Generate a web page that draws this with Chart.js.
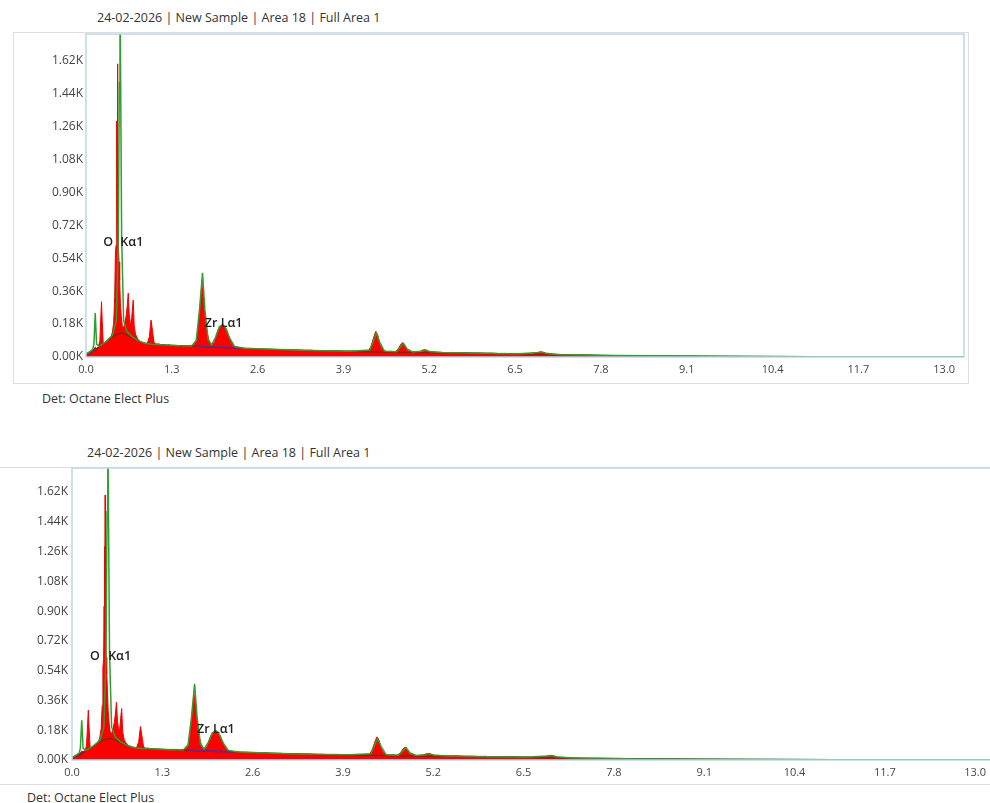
<!DOCTYPE html>
<html>
<head>
<meta charset="utf-8">
<script src="https://cdn.jsdelivr.net/npm/chart.js@4.4.1/dist/chart.umd.min.js"></script>
<style>
  html, body { margin: 0; padding: 0; background: #fff; width: 990px; height: 803px; overflow: hidden; position: relative; font-family: 'Open Sans', sans-serif; }
  .frame { position: absolute; border: 1px solid #dedede; box-sizing: border-box; }
  .title, .det { position: absolute; font-size: 12.5px; color: #333; white-space: nowrap; line-height: 14px; }
  canvas { position: absolute; }
</style>
</head>
<body>

<div class="title" style="left:97px; top:11px;">24-02-2026 | New Sample | Area 18 | Full Area 1</div>
<div class="frame" style="left:13px; top:32px; width:956px; height:352px;"></div>
<canvas id="spec1" width="955" height="351" style="left:13px; top:32px;"></canvas>
<div class="det" style="left:42px; top:392px;">Det: Octane Elect Plus</div>

<div class="title" style="left:87px; top:446px;">24-02-2026 | New Sample | Area 18 | Full Area 1</div>
<div class="frame" style="left:-1px; top:467px; width:1010px; height:318px;"></div>
<canvas id="spec2" width="1000" height="317" style="left:0px; top:467px;"></canvas>
<div class="det" style="left:27px; top:791px;">Det: Octane Elect Plus</div>

<script>
// axis ticks
const xTicks = [0, 1.3, 2.6, 3.9, 5.2, 6.5, 7.8, 9.1, 10.4, 11.7, 13.0];
const yTicks = [0, 180, 360, 540, 720, 900, 1080, 1260, 1440, 1620];
const xMax = 13.3;
const yMax = 1765;

// measured spectrum (red fill), keV / counts
const spectrumKeV = [
  0.00, 0.03, 0.06, 0.09, 0.12, 0.14, 0.16, 0.19, 0.21, 0.225, 0.235, 0.245, 0.26, 0.28, 0.31, 0.34, 0.36, 0.38,
  0.40, 0.42, 0.435, 0.445, 0.455, 0.462, 0.468, 0.472, 0.477, 0.483, 0.49, 0.50, 0.51, 0.52, 0.535, 0.55, 0.57,
  0.59, 0.61, 0.625, 0.64, 0.655, 0.67, 0.685, 0.70, 0.715, 0.73, 0.75, 0.77, 0.79, 0.81, 0.84, 0.87, 0.90, 0.93,
  0.96, 0.985, 1.005, 1.03, 1.06, 1.10, 1.14, 1.18, 1.22, 1.26, 1.30, 1.34, 1.38, 1.42, 1.46, 1.50, 1.54, 1.58,
  1.61, 1.64, 1.67, 1.70, 1.73, 1.755, 1.775, 1.80, 1.83, 1.86, 1.89, 1.92, 1.95, 1.98, 2.01, 2.04, 2.07, 2.10,
  2.13, 2.16, 2.19, 2.22, 2.26, 2.30, 2.35, 2.40, 2.45, 2.50, 2.55, 2.60, 2.70, 2.80, 2.90, 3.00, 3.10, 3.20,
  3.30, 3.40, 3.50, 3.60, 3.70, 3.80, 3.90, 4.00, 4.10, 4.20, 4.28, 4.32, 4.36, 4.39, 4.42, 4.45, 4.49, 4.55,
  4.62, 4.68, 4.73, 4.77, 4.80, 4.83, 4.87, 4.93, 5.00, 5.06, 5.10, 5.14, 5.18, 5.24, 5.35, 5.45, 5.55, 5.65,
  5.75, 5.85, 5.95, 6.05, 6.15, 6.25, 6.35, 6.45, 6.55, 6.65, 6.75, 6.82, 6.88, 6.94, 7.00, 7.10, 7.25, 7.40,
  7.60, 7.80, 8.00, 8.30, 8.60, 9.00, 9.50, 10.00, 11.00, 12.00, 13.30
];
const spectrumCounts = [
  15, 22, 28, 35, 42, 55, 48, 58, 90, 220, 302, 200, 80, 72, 85, 92, 104, 112,
  135, 190, 330, 560, 610, 930, 1290, 700, 1602, 980, 620, 520, 420, 300, 220, 170, 160,
  185, 230, 280, 349, 230, 190, 175, 250, 311, 170, 125, 108, 96, 88, 80, 74, 71, 76,
  110, 202, 150, 80, 70, 72, 65, 68, 62, 66, 60, 63, 58, 61, 57, 62, 58, 64,
  60, 70, 85, 150, 280, 398, 340, 230, 140, 95, 72, 66, 85, 125, 155, 168, 178, 165,
  150, 118, 88, 66, 54, 50, 44, 47, 42, 45, 41, 44, 40, 42, 38, 40, 36, 38,
  35, 37, 34, 35, 32, 34, 31, 33, 30, 32, 35, 60, 110, 140, 120, 70, 40, 30,
  31, 28, 45, 70, 78, 60, 35, 28, 27, 30, 38, 40, 33, 26, 25, 24, 25, 22,
  23, 21, 22, 20, 21, 19, 20, 18, 17, 14, 15, 22, 28, 25, 15, 12, 11, 9,
  10, 8, 7, 6, 5, 4, 3, 2, 2, 1, 1
];

// fitted spectrum (green line)
const fitKeV = [
  0.00, 0.06, 0.10, 0.12, 0.14, 0.16, 0.20, 0.30, 0.40, 0.46, 0.49, 0.505, 0.515, 0.525, 0.54, 0.57, 0.62,
  0.70, 0.80, 0.90, 1.00, 1.20, 1.40, 1.60, 1.67, 1.72, 1.765, 1.80, 1.85, 1.90, 1.96, 2.02, 2.07, 2.12, 2.18,
  2.25, 2.40, 2.80, 3.20, 3.60, 4.00, 4.30, 4.36, 4.40, 4.45, 4.52, 4.70, 4.76, 4.81, 4.86, 4.95, 5.08, 5.14,
  5.20, 5.40, 6.00, 6.50, 6.85, 6.90, 6.96, 7.20, 8.00, 9.00, 10.00, 11.00, 13.30
];
const fitCounts = [
  15, 30, 40, 70, 240, 70, 58, 82, 118, 200, 650, 1500, 2000, 1500, 650, 200, 140,
  110, 88, 74, 70, 66, 62, 60, 90, 260, 460, 260, 95, 66, 105, 165, 178, 155, 100,
  58, 48, 42, 37, 34, 31, 38, 95, 130, 80, 32, 29, 55, 74, 45, 27, 32, 38,
  30, 24, 20, 17, 24, 27, 20, 12, 8, 5, 3, 2, 1
];

// continuum background (dark line)
const bkgKeV = [
  0.00, 0.10, 0.20, 0.30, 0.40, 0.48, 0.55, 0.62, 0.70, 0.78, 0.86, 0.95, 1.10, 1.30, 1.60, 2.00, 2.40, 2.80,
  3.20, 3.60, 4.00, 4.50, 5.00, 5.50, 6.00, 6.50, 7.00, 7.50, 8.00, 9.00, 10.00, 11.00, 13.30
];
const bkgCounts = [
  12, 28, 55, 82, 110, 126, 131, 120, 104, 90, 78, 72, 68, 64, 59, 53, 47, 42,
  37, 33, 30, 27, 24, 22, 19, 17, 13, 10, 8, 5, 3, 2, 1
];

// peak background segments (purple line)
const roiKeV = [0.02, 0.06, 0.10, 0.14, 0.15, 1.66, 1.80, 2.00, 2.20, 2.32];
const roiCounts = [18, 28, 38, 44, null, 60, 58, 53, 49, 47];

// peak labels
const peakLabelText = ['O', 'Kα1', 'Zr Lα1'];
const peakLabelKeV = [0.26, 0.52, 1.80];
const peakLabelCounts = [625, 625, 182];

const toPoints = (xs, ys) => xs.map((x, i) => ({ x: x, y: ys[i] }));

const plotBorder = {
  id: 'plotBorder',
  afterDatasetsDraw(chart) {
    const a = chart.chartArea;
    const ctx = chart.ctx;
    ctx.save();
    ctx.strokeStyle = '#bcd6e8';
    ctx.lineWidth = 1.5;
    ctx.strokeRect(a.left, a.top, a.right - a.left, a.bottom - a.top);
    ctx.restore();
  }
};

const peakLabels = {
  id: 'peakLabels',
  afterDatasetsDraw(chart) {
    const ctx = chart.ctx;
    const xs = chart.scales.x;
    const ys = chart.scales.y;
    ctx.save();
    ctx.font = '600 12.5px "Open Sans"';
    ctx.fillStyle = '#222';
    ctx.textAlign = 'left';
    ctx.textBaseline = 'middle';
    for (let i = 0; i < peakLabelText.length; i++) {
      ctx.fillText(peakLabelText[i], xs.getPixelForValue(peakLabelKeV[i]), ys.getPixelForValue(peakLabelCounts[i]));
    }
    ctx.restore();
  }
};

const makeChart = (id, layout) => {
  const ctx = document.getElementById(id);
  return new Chart(ctx, {
    type: 'line',
    data: {
      datasets: [
        {
          label: 'Fit',
          data: toPoints(fitKeV, fitCounts),
          borderColor: '#2e9e2e',
          borderWidth: 1.5,
          pointRadius: 0,
          fill: false,
          order: 1
        },
        {
          label: 'ROI',
          data: toPoints(roiKeV, roiCounts),
          borderColor: '#5a2d91',
          borderWidth: 1.5,
          pointRadius: 0,
          fill: false,
          order: 2
        },
        {
          label: 'Background',
          data: toPoints(bkgKeV, bkgCounts),
          borderColor: '#6b2e14',
          borderWidth: 1.3,
          pointRadius: 0,
          fill: false,
          order: 3
        },
        {
          label: 'Spectrum',
          data: toPoints(spectrumKeV, spectrumCounts),
          borderColor: '#f20000',
          backgroundColor: '#ff0000',
          borderWidth: 1,
          pointRadius: 0,
          fill: 'origin',
          order: 4
        }
      ]
    },
    options: {
      responsive: false,
      animation: false,
      devicePixelRatio: 1,
      layout: { padding: { top: layout.padTop, right: layout.padRight, left: 0, bottom: 0 } },
      plugins: { legend: { display: false }, tooltip: { enabled: false } },
      scales: {
        x: {
          type: 'linear',
          min: 0,
          max: xMax,
          grid: { display: false, drawTicks: false },
          border: { display: false },
          afterBuildTicks: (scale) => { scale.ticks = xTicks.map(v => ({ value: v })); },
          afterFit: (scale) => {
            scale.height = layout.xAxisHeight;
            scale.paddingLeft = 0;
            scale.paddingRight = 0;
          },
          ticks: {
            autoSkip: false,
            maxRotation: 0,
            padding: 6,
            color: '#444',
            font: { family: 'Open Sans', size: 11 },
            callback: (v) => Number(v).toFixed(1)
          }
        },
        y: {
          min: 0,
          max: yMax,
          grid: { display: false, drawTicks: false },
          border: { display: false },
          afterBuildTicks: (scale) => { scale.ticks = yTicks.map(v => ({ value: v })); },
          afterFit: (scale) => {
            scale.width = layout.yAxisWidth;
            scale.paddingTop = 0;
            scale.paddingBottom = 0;
          },
          ticks: {
            autoSkip: false,
            padding: layout.yPad,
            color: '#444',
            font: { family: 'Open Sans', size: 12 },
            callback: (v) => (v / 1000).toFixed(2) + 'K'
          }
        }
      }
    },
    plugins: [plotBorder, peakLabels]
  });
};

makeChart('spec1', { padTop: 2, padRight: 4, xAxisHeight: 26, yAxisWidth: 73, yPad: 3 });
makeChart('spec2', { padTop: 1, padRight: 4, xAxisHeight: 24, yAxisWidth: 72, yPad: 4 });
</script>
</body>
</html>
